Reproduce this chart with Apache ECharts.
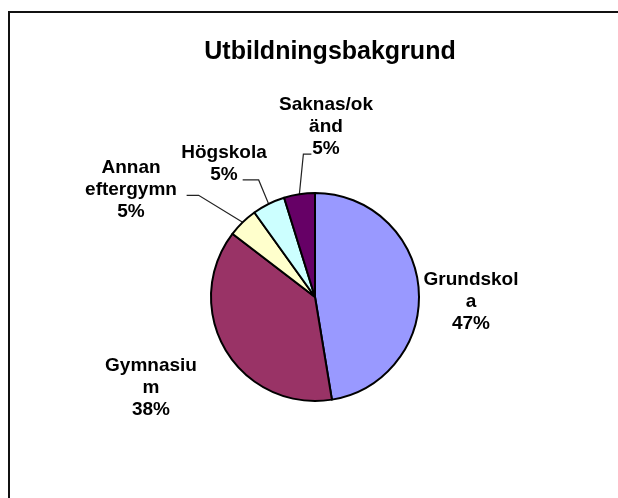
<!DOCTYPE html>
<html>
<head>
<meta charset="utf-8">
<title>Utbildningsbakgrund</title>
<script src="https://cdn.jsdelivr.net/npm/echarts@6/dist/echarts.min.js"></script>
<style>
  html, body { margin: 0; padding: 0; background: #fff; }
  #chart { width: 618px; height: 498px; }
</style>
</head>
<body>
<div id="chart"></div>
<script>
const categories = ['Grundskola', 'Gymnasium', 'Annan eftergymn', 'Högskola', 'Saknas/okänd'];
const values = [47.4, 38.0, 4.7, 5.1, 4.8];
// wrapped the way the original chart wraps them
const labelNames = ['Grundskol\na', 'Gymnasiu\nm', 'Annan\neftergymn', 'Högskola', 'Saknas/ok\nänd'];
const colors = ['#9999ff', '#993366', '#ffffcc', '#ccffff', '#660066'];

// label centres, and the leader line bend/end relative to the slice edge
const labelSpots = [
  { x: 471, y: 302 },
  { x: 151, y: 388 },
  { x: 131, y: 190, bend: [-44, -27], end: [-56, -27] },
  { x: 224, y: 164, bend: [-10, -24], end: [-26, -24] },
  { x: 326, y: 127, bend: [4, -40], end: [12, -40] }
];

const font = 'Liberation Sans, Arial, Helvetica, sans-serif';

const chart = echarts.init(document.getElementById('chart'));
chart.setOption({
  animation: false,
  backgroundColor: '#fff',
  title: {
    text: 'Utbildningsbakgrund',
    left: 325,
    top: 35,
    textAlign: 'center',
    textStyle: { fontFamily: font, fontSize: 25, fontWeight: 'bold', color: '#000' }
  },
  // frame: only top and left edges are visible in the original
  graphic: [
    {
      type: 'polyline',
      shape: { points: [[9, 498], [9, 12], [618, 12]] },
      style: { stroke: '#111', lineWidth: 2, fill: null }
    }
  ],
  series: [
    {
      type: 'pie',
      center: [315, 297],
      radius: 104,
      startAngle: 90,
      clockwise: true,
      avoidLabelOverlap: false,
      percentPrecision: 0,
      itemStyle: { borderColor: '#000', borderWidth: 2 },
      label: {
        show: true,
        position: 'outside',
        fontFamily: font,
        fontSize: 19,
        fontWeight: 'bold',
        color: '#000',
        lineHeight: 22,
        formatter: function (p) {
          return labelNames[p.dataIndex] + '\n' + p.percent + '%';
        }
      },
      labelLine: {
        show: true,
        length: 10,
        length2: 10,
        lineStyle: { color: '#222', width: 1.2 }
      },
      labelLayout: function (params) {
        const spot = labelSpots[params.dataIndex];
        const out = { x: spot.x, y: spot.y, align: 'center', verticalAlign: 'middle' };
        const pts = params.labelLinePoints;
        if (spot.bend && pts) {
          const p0 = pts[0];
          out.labelLinePoints = [
            p0,
            [p0[0] + spot.bend[0], p0[1] + spot.bend[1]],
            [p0[0] + spot.end[0], p0[1] + spot.end[1]]
          ];
        }
        return out;
      },
      emphasis: { disabled: true },
      data: categories.map(function (name, i) {
        const item = { name: name, value: values[i], itemStyle: { color: colors[i] } };
        if (i < 2) {
          item.labelLine = { show: false };
        }
        return item;
      })
    }
  ]
});
</script>
</body>
</html>
